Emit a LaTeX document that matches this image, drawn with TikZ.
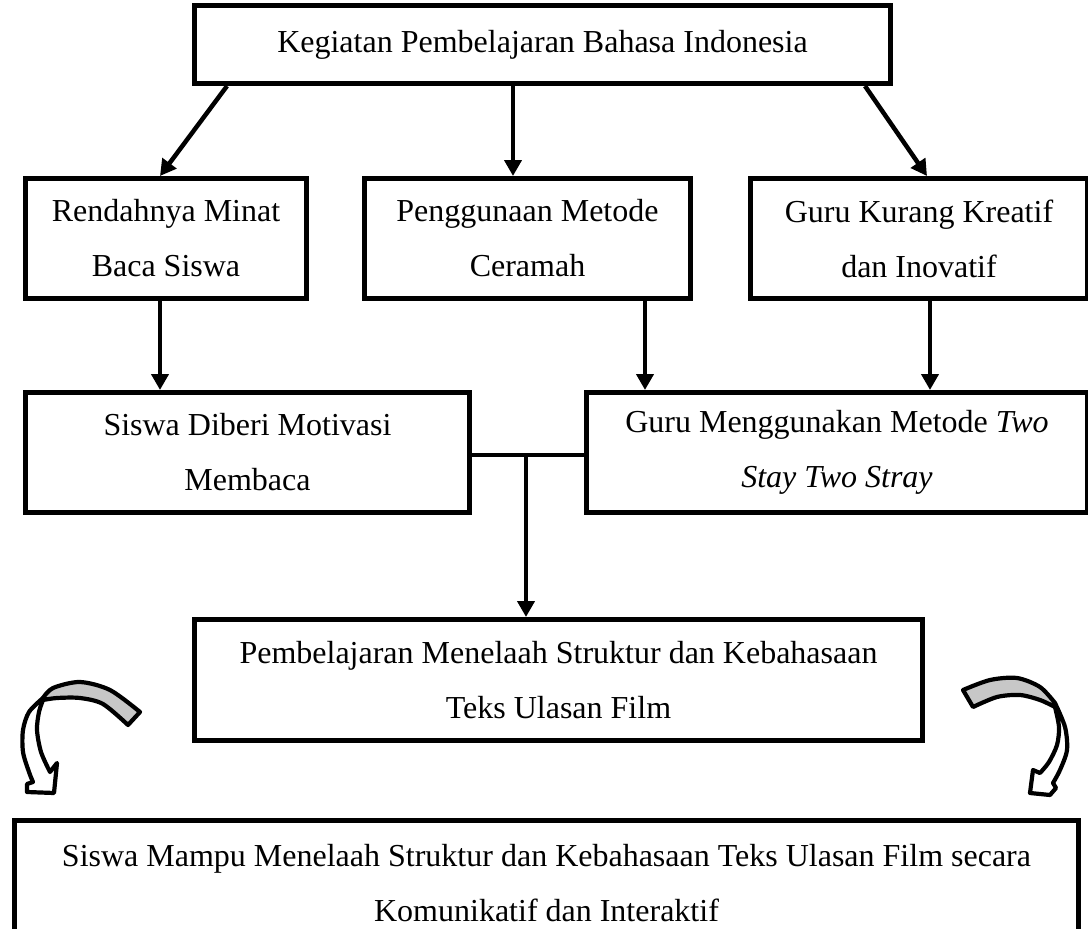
\documentclass[tikz,border=0pt]{standalone}
\usepackage{fontspec}
\setmainfont{Liberation Serif}
\usetikzlibrary{arrows.meta,calc}
\begin{document}
\begin{tikzpicture}[x=1pt,y=-1pt,
 box/.style={draw,line width=5pt,align=center,inner sep=0pt,anchor=north west,font=\fontsize{32}{55}\selectfont},
 arr/.style={line width=4.5pt,-{Triangle[length=16pt,width=17pt]}},
 ln/.style={line width=4.5pt},
 band/.style={draw,line width=4.2pt,line join=round,fill=black!22},
 shaft/.style={draw,line width=4.2pt,line join=round,fill=white}]
\useasboundingbox (0,0) rectangle (1088,929);
\clip (0,0) rectangle (1088,929);
% boxes
\node[box,minimum width=696pt,minimum height=78pt] (top) at (192,3) {Kegiatan Pembelajaran Bahasa Indonesia};
\node[box,minimum width=281pt,minimum height=120pt] (A) at (23,176) {Rendahnya Minat\\Baca Siswa};
\node[box,minimum width=326pt,minimum height=120pt] (B) at (362,176) {Penggunaan Metode\\Ceramah};
\node[box,minimum width=337pt,minimum height=120pt] (C) at (748,176) {Guru Kurang Kreatif\\dan Inovatif};
\node[box,minimum width=444pt,minimum height=120pt] (D) at (23,390) {Siswa Diberi Motivasi\\Membaca};
\node[box,minimum width=501pt,minimum height=120pt] (E) at (584,390) {Guru Menggunakan Metode \textit{Two}\\\textit{Stay Two Stray}};
\node[box,minimum width=728pt,minimum height=121pt] (F) at (192,617) {Pembelajaran Menelaah Struktur dan Kebahasaan\\Teks Ulasan Film};
\node[box,minimum width=1064pt,minimum height=126pt] (G) at (12,818) {Siswa Mampu Menelaah Struktur dan Kebahasaan Teks Ulasan Film secara\\Komunikatif dan Interaktif};
% arrows from top
\draw[arr] ($(top.south west)+(35,0)$) -- ($(A.north west)+(137,0)$);
\coordinate (tb) at ($(B.north west)+(151,0)$);
\draw[arr] (tb |- top.south) -- (tb);
\draw[arr] ($(top.south west)+(673,0)$) -- ($(C.north west)+(179,0)$);
% row 2 to row 3
\coordinate (ad) at ($(A.south west)+(137,0)$);
\draw[arr] (ad) -- (ad |- D.north);
\coordinate (be) at ($(B.south west)+(283,0)$);
\draw[arr] (be) -- (be |- E.north);
\coordinate (ce) at ($(C.south west)+(182,0)$);
\draw[arr] (ce) -- (ce |- E.north);
% junction
\coordinate (dj) at ($(D.north east)+(0,65)$);
\draw[ln] (dj) -- (dj -| E.west);
\coordinate (j) at (526,455);
\draw[arr] (j) -- (j |- F.north);
% left curved arrow
\draw[band] plot[smooth] coordinates {(140,712) (110,690) (80,682) (53,688) (43,698)}
  -- plot[smooth] coordinates {(43,700) (57,698) (80,698) (103,704) (128,725)} -- cycle;
\draw[shaft] plot[smooth] coordinates {(43,698) (29,712) (23,730) (23,752) (29,772) (33,782)}
  -- (27,784) -- (27,792) -- (54,793) -- (57,763) -- (50,772)
  -- plot[smooth] coordinates {(50,772) (41,752) (37,730) (39,712) (43,700)} -- cycle;
% right curved arrow
\draw[band] plot[smooth] coordinates {(963,690) (990,680) (1017,678) (1040,687) (1055,703)}
  -- plot[smooth] coordinates {(1055,707) (1040,700) (1020,695) (997,697) (973,707)} -- cycle;
\draw[shaft] plot[smooth] coordinates {(1055,703) (1065,727) (1067,750) (1060,770) (1053,783)}
  -- (1056,788) -- (1050,795) -- (1030,793) -- (1033,770) -- (1040,773)
  -- plot[smooth] coordinates {(1040,773) (1049,762) (1057,745) (1059,727) (1055,707)} -- cycle;
\end{tikzpicture}
\end{document}
